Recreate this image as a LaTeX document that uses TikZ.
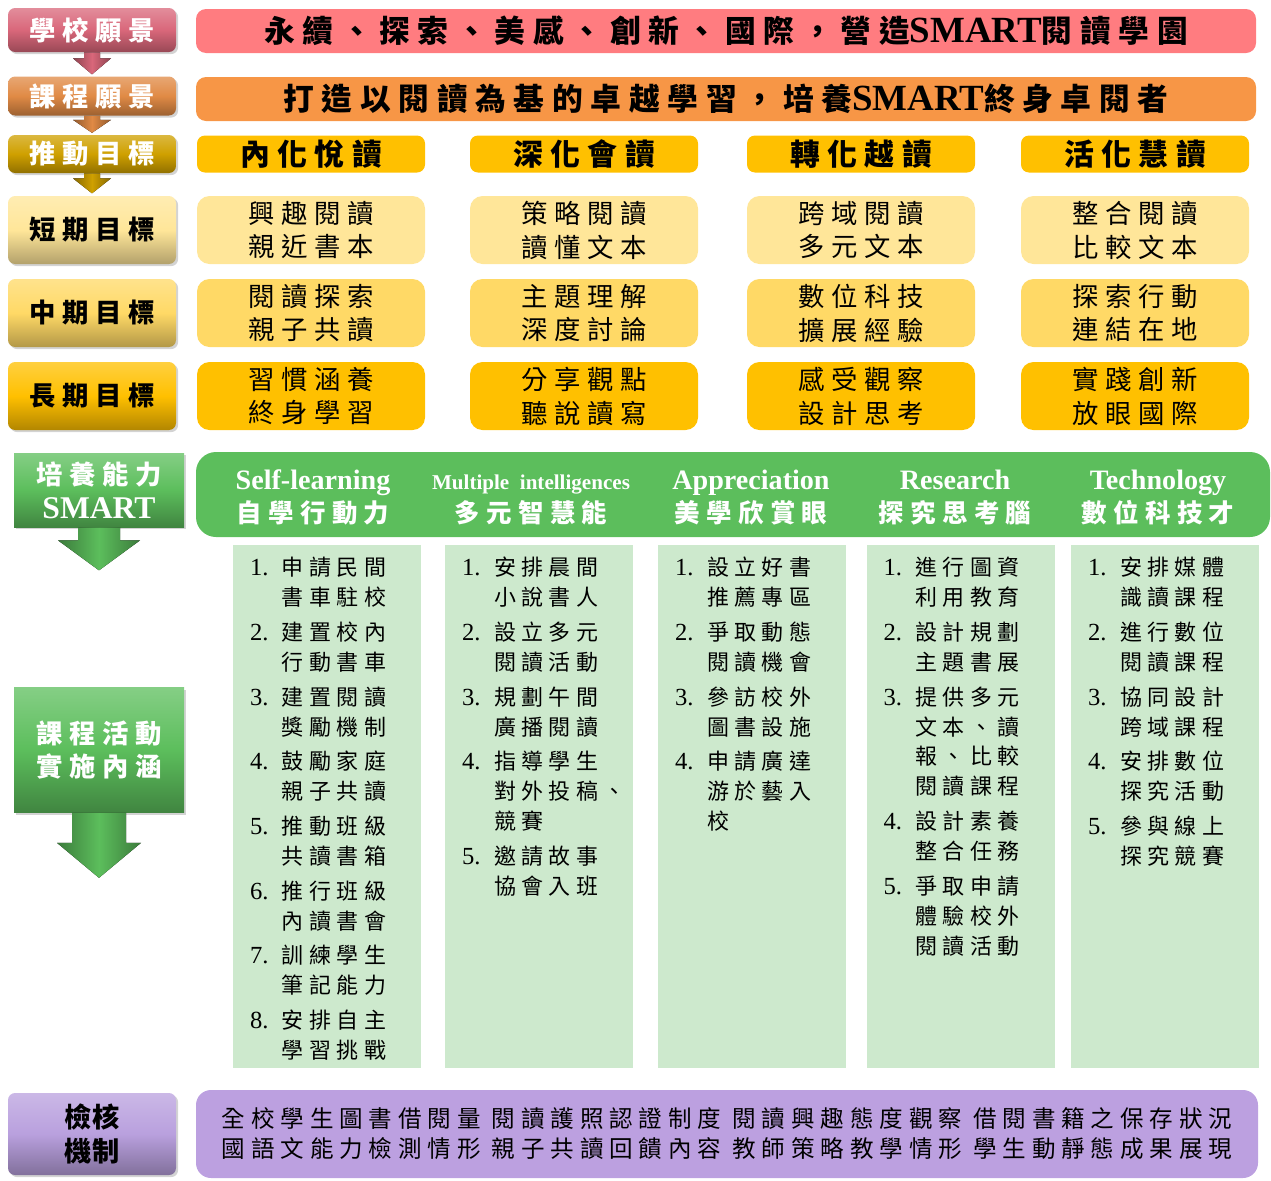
\documentclass[tikz,border=0pt]{standalone}
\usepackage{fontspec}
\setmainfont{Noto Sans CJK TC}
\newfontfamily\cjksp[LetterSpace=25]{Noto Sans CJK TC}
\newfontfamily\latinserif{Liberation Serif}
\usepackage{tikz}
\usetikzlibrary{calc, shadows}

\definecolor{bannerpink}{HTML}{FF7C80}
\definecolor{bannerorange}{HTML}{F79646}
\definecolor{goldA}{HTML}{FFC000}
\definecolor{goldB}{HTML}{FFD966}
\definecolor{goldC}{HTML}{FFE699}
\definecolor{smartgreen}{HTML}{5CBE5C}
\definecolor{listgreen}{HTML}{CDE9CD}
\definecolor{checkpurple}{HTML}{BCA0E0}
\definecolor{labpink}{HTML}{D9677A}
\definecolor{laborange}{HTML}{E08A45}
\definecolor{labgold}{HTML}{CFA000}
\definecolor{labpurple}{HTML}{B9A0DE}

\newcommand{\smartfont}{\latinserif\bfseries\fontsize{21}{21}\selectfont}
\newcommand{\itemno}[1]{{\latinserif\fontsize{14}{17}\selectfont #1}}
\newcommand{\itemgap}{2.8pt}
% block arrow under a tag: node, fill, shaft half, head half, shaft length, length
\newcommand{\tagarrow}[6]{%
    \fill[#2] ($(#1.south)+(-#3,0)$) -- ($(#1.south)+(-#3,#5)$) -- ($(#1.south)+(-#4,#5)$)
        -- ($(#1.south)+(0,#6)$) -- ($(#1.south)+(#4,#5)$) -- ($(#1.south)+(#3,#5)$)
        -- ($(#1.south)+(#3,0)$) -- cycle;}

\tikzset{
    boxwh/.style args={#1and#2}{
        minimum width=#1*0.02cm,
        minimum height=#2*0.02cm,
    },
    tagfill/.style={
        top color=#1!75!white,
        bottom color=#1!70!black,
        middle color=#1,
    },
    arrfill/.style={
        left color=#1!65!black,
        right color=#1!65!black,
        middle color=#1,
    },
    tag/.style={
        rectangle,
        rounded corners=4pt,
        inner sep=0pt,
        align=center,
        drop shadow={shadow xshift=1.2pt, shadow yshift=-1.2pt, opacity=.35},
        font=\cjksp\bfseries\fontsize{15}{19.3}\selectfont,
    },
    banner/.style={
        rectangle,
        rounded corners=0.2cm,
        inner sep=0pt,
        font=\cjksp\bfseries\fontsize{17.5}{20}\selectfont,
    },
    goalbox/.style={
        banner,
        boxwh=228 and 37,
        rounded corners=0.16cm,
        font=\cjksp\bfseries\fontsize{17}{20}\selectfont,
    },
    termbox/.style={
        banner,
        boxwh=228 and 68,
        rounded corners=0.25cm,
        align=center,
        font=\cjksp\fontsize{15}{19.3}\selectfont,
    },
    engtitle/.style={
        anchor=base,
        inner sep=0pt,
        text=white,
        font=\latinserif\bfseries\fontsize{16}{16}\selectfont,
    },
    zhtitle/.style={
        inner sep=0pt,
        text=white,
        font=\cjksp\bfseries\fontsize{14.5}{16}\selectfont,
    },
    actbox/.style={
        rectangle,
        fill=listgreen,
        inner sep=0pt,
        boxwh=188 and 523,
    },
    actlist/.style={
        anchor=north west,
        inner sep=0pt,
        align=left,
        font=\cjksp\fontsize{12.5}{17}\selectfont,
    }
}

\begin{document}
\begin{tikzpicture}[x=0.02cm, y=-0.02cm]

\useasboundingbox (0,0) rectangle (1271,1180);

% left tags
\node[tag, tagfill=labpink, boxwh=168 and 44, text=white] (vision) at (92,30) {學校願景};
\node[tag, tagfill=laborange, boxwh=168 and 39, text=white] (curvision) at (92,96) {課程願景};
\node[tag, tagfill=labgold, boxwh=168 and 38, text=white] (drive) at (92,154) {推動目標};
\node[tag, tagfill=goldC, boxwh=168 and 68] (shortterm) at (92,230) {短期目標};
\node[tag, tagfill=goldB, boxwh=168 and 68] (midterm) at (92,313) {中期目標};
\node[tag, tagfill=goldA, boxwh=168 and 68] (longterm) at (92,396) {長期目標};
\node[tag, tagfill=smartgreen, boxwh=170 and 74, rounded corners=0pt, text=white] (ability) at (99,490)
    {培養能力\\{\latinserif\bfseries\fontsize{18}{18}\selectfont SMART}};
\node[tag, tagfill=smartgreen, boxwh=170 and 125, rounded corners=0pt, text=white] (activity) at (99,750)
    {課程活動\\實施內涵};
\node[tag, tagfill=labpurple, boxwh=168 and 82, font=\bfseries\fontsize{15.5}{19}\selectfont] (check) at (92,1134)
    {檢核\\機制};

\tagarrow{vision}{arrfill=labpink}{8}{19}{6}{22}
\tagarrow{curvision}{arrfill=laborange}{8}{19}{4}{17}
\tagarrow{drive}{arrfill=labgold}{8}{19}{5}{20}
\tagarrow{ability}{arrfill=smartgreen}{21}{41}{13}{43}
\tagarrow{activity}{arrfill=smartgreen}{27}{42}{30}{65}

% visions
\node[banner, fill=bannerpink, boxwh=1060 and 44] (schoolvision) at (726,31)
    {永續、探索、美感、創新、國際，營造{\smartfont SMART}閱讀學園};
\node[banner, fill=bannerorange, boxwh=1060 and 44] (coursevision) at (726,99)
    {打造以閱讀為基的卓越學習，培養{\smartfont SMART}終身卓閱者};

% goals
\foreach \cx/\txt/\nm in {311/內化悅讀/a, 584/深化會讀/b, 861/轉化越讀/c, 1135/活化慧讀/d}
    \node[goalbox, fill=goldA] (goal\nm) at (\cx,154) {\txt};

\foreach \cx/\ta/\tb/\nm in {311/興趣閱讀/親近書本/a, 584/策略閱讀/讀懂文本/b,
        861/跨域閱讀/多元文本/c, 1135/整合閱讀/比較文本/d}
    \node[termbox, fill=goldC] (short\nm) at (\cx,230) {\ta\\\tb};

\foreach \cx/\ta/\tb/\nm in {311/閱讀探索/親子共讀/a, 584/主題理解/深度討論/b,
        861/數位科技/擴展經驗/c, 1135/探索行動/連結在地/d}
    \node[termbox, fill=goldB] (mid\nm) at (\cx,313) {\ta\\\tb};

\foreach \cx/\ta/\tb/\nm in {311/習慣涵養/終身學習/a, 584/分享觀點/聽說讀寫/b,
        861/感受觀察/設計思考/c, 1135/實踐創新/放眼國際/d}
    \node[termbox, fill=goldA] (long\nm) at (\cx,396) {\ta\\\tb};

% SMART
\node[banner, fill=smartgreen, boxwh=1074 and 85, rounded corners=0.4cm] (smartbar) at (733,494.5) {};

\foreach \cx/\en/\zh/\nm in {313/Self-learning/自學行動力/s,
        531/{\fontsize{12}{12}\selectfont Multiple\ \ intelligences}/多元智慧能/m,
        751/Appreciation/美學欣賞眼/a, 955/Research/探究思考腦/r, 1158/Technology/數位科技才/t} {
    \node[engtitle] (en\nm) at (\cx,489) {\en};
    \node[zhtitle] (zh\nm) at (\cx,513) {\zh};
}

\foreach \cx/\nm in {327/s, 539/m, 752/a, 960.5/r, 1165/t}
    \node[actbox] (col\nm) at (\cx,806.5) {};

\node[actlist] (lists) at ($(cols.north west)+(17,10)$) {\begin{tabular}{@{}p{0.64cm}@{}l@{}}
\itemno{1.} & 申請民間\\ & 書車駐校\\[\itemgap]
\itemno{2.} & 建置校內\\ & 行動書車\\[\itemgap]
\itemno{3.} & 建置閱讀\\ & 獎勵機制\\[\itemgap]
\itemno{4.} & 鼓勵家庭\\ & 親子共讀\\[\itemgap]
\itemno{5.} & 推動班級\\ & 共讀書箱\\[\itemgap]
\itemno{6.} & 推行班級\\ & 內讀書會\\[\itemgap]
\itemno{7.} & 訓練學生\\ & 筆記能力\\[\itemgap]
\itemno{8.} & 安排自主\\ & 學習挑戰
\end{tabular}};

\node[actlist] (listm) at ($(colm.north west)+(17,10)$) {\begin{tabular}{@{}p{0.64cm}@{}l@{}}
\itemno{1.} & 安排晨間\\ & 小說書人\\[\itemgap]
\itemno{2.} & 設立多元\\ & 閱讀活動\\[\itemgap]
\itemno{3.} & 規劃午間\\ & 廣播閱讀\\[\itemgap]
\itemno{4.} & 指導學生\\ & 對外投稿、\\ & 競賽\\[\itemgap]
\itemno{5.} & 邀請故事\\ & 協會入班
\end{tabular}};

\node[actlist] (lista) at ($(cola.north west)+(17,10)$) {\begin{tabular}{@{}p{0.64cm}@{}l@{}}
\itemno{1.} & 設立好書\\ & 推薦專區\\[\itemgap]
\itemno{2.} & 爭取動態\\ & 閱讀機會\\[\itemgap]
\itemno{3.} & 參訪校外\\ & 圖書設施\\[\itemgap]
\itemno{4.} & 申請廣達\\ & 游於藝入\\ & 校
\end{tabular}};

\node[actlist] (listr) at ($(colr.north west)+(17,10)$) {\begin{tabular}{@{}p{0.64cm}@{}l@{}}
\itemno{1.} & 進行圖資\\ & 利用教育\\[\itemgap]
\itemno{2.} & 設計規劃\\ & 主題書展\\[\itemgap]
\itemno{3.} & 提供多元\\ & 文本、讀\\ & 報、比較\\ & 閱讀課程\\[\itemgap]
\itemno{4.} & 設計素養\\ & 整合任務\\[\itemgap]
\itemno{5.} & 爭取申請\\ & 體驗校外\\ & 閱讀活動
\end{tabular}};

\node[actlist] (listt) at ($(colt.north west)+(17,10)$) {\begin{tabular}{@{}p{0.64cm}@{}l@{}}
\itemno{1.} & 安排媒體\\ & 識讀課程\\[\itemgap]
\itemno{2.} & 進行數位\\ & 閱讀課程\\[\itemgap]
\itemno{3.} & 協同設計\\ & 跨域課程\\[\itemgap]
\itemno{4.} & 安排數位\\ & 探究活動\\[\itemgap]
\itemno{5.} & 參與線上\\ & 探究競賽
\end{tabular}};

% check
\node[banner, fill=checkpurple, boxwh=1062 and 88, rounded corners=0.3cm, align=center,
    font=\cjksp\fontsize{13.4}{17}\selectfont] (checkbar) at (727,1134)
    {全校學生圖書借閱量 閱讀護照認證制度 閱讀興趣態度觀察 借閱書籍之保存狀況\\
     國語文能力檢測情形 親子共讀回饋內容 教師策略教學情形 學生動靜態成果展現};

\end{tikzpicture}
\end{document}
